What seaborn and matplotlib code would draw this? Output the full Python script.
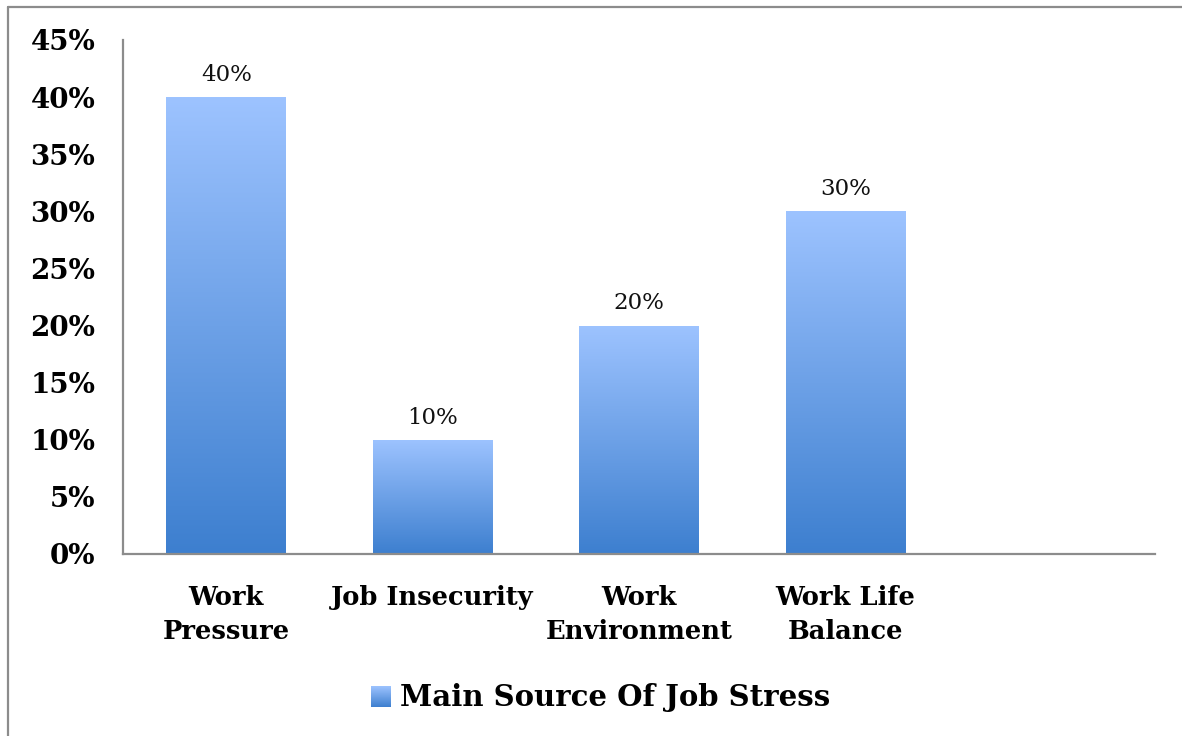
import numpy as np
import pandas as pd
import matplotlib
matplotlib.use("Agg")
import matplotlib.pyplot as plt
import seaborn as sns
from matplotlib.colors import LinearSegmentedColormap
from matplotlib.lines import Line2D

categories = ["Work\nPressure", "Job Insecurity", "Work\nEnvironment", "Work Life\nBalance"]
values = [0.40, 0.10, 0.20, 0.30]
value_labels = ["40%", "10%", "20%", "30%"]
y_ticks = [0.00, 0.05, 0.10, 0.15, 0.20, 0.25, 0.30, 0.35, 0.40, 0.45]
y_tick_labels = ["0%", "5%", "10%", "15%", "20%", "25%", "30%", "35%", "40%", "45%"]
series_name = "Main Source Of Job Stress"

sns.set_theme(style="white")
plt.rcParams["font.family"] = ["DejaVu Serif"]

top_color = "#9DC3FF"
bottom_color = "#3D7FCF"
grad_cmap = LinearSegmentedColormap.from_list("bar_grad", [bottom_color, top_color])

fig = plt.figure(figsize=(11.82, 7.36), dpi=100)
ax = fig.add_axes([123 / 1182, 1 - 554 / 736, (1155 - 123) / 1182, (554 - 40) / 736])

df = pd.DataFrame({"category": categories, "value": values})
sns.barplot(data=df, x="category", y="value", color=bottom_color, width=0.58,
            ax=ax, errorbar=None)

# Replace flat fills with a vertical gradient clipped to each bar
grad = np.linspace(0, 1, 256).reshape(-1, 1)
for patch, lab in zip(ax.patches, value_labels):
    x0, y0 = patch.get_x(), patch.get_y()
    w, h = patch.get_width(), patch.get_height()
    patch.set_facecolor("none")
    patch.set_edgecolor("none")
    im = ax.imshow(grad, cmap=grad_cmap, origin="lower", aspect="auto",
                   extent=[x0, x0 + w, y0, y0 + h], zorder=2, interpolation="bilinear")
    im.set_clip_path(patch)
    ax.annotate(lab, (x0 + w / 2, y0 + h), xytext=(0, 8), textcoords="offset points",
                ha="center", va="bottom", fontsize=16.5, color="#111111")
ax.set_xlim(-0.5, 4.5)
ax.set_ylim(0, 0.45)

ax.set_yticks(y_ticks)
ax.set_yticklabels(y_tick_labels, fontsize=20, fontweight="bold", color="black")
ax.set_xticks(range(len(categories)))
ax.set_xticklabels(categories, fontsize=18.5, fontweight="bold", color="black",
                   linespacing=1.45)
ax.tick_params(axis="y", length=0, pad=20)
ax.tick_params(axis="x", length=0, pad=22)
ax.set_xlabel("")
ax.set_ylabel("")

for side in ["top", "right"]:
    ax.spines[side].set_visible(False)
for side in ["left", "bottom"]:
    ax.spines[side].set_color("#8C8C8C")
    ax.spines[side].set_linewidth(1.6)

# Legend: gradient swatch plus bold label
sw = fig.add_axes([371 / 1182, 1 - 707 / 736, 20 / 1182, 21 / 736])
sw.imshow(grad, cmap=grad_cmap, origin="lower", aspect="auto")
sw.set_axis_off()
fig.text(400 / 1182, 1 - 697 / 736, series_name, fontsize=21, fontweight="bold",
         va="center", ha="left", color="black")

# Outer frame lines
fig.add_artist(Line2D([8 / 1182, 8 / 1182], [0, 1 - 7 / 736], color="#8C8C8C", lw=1.6,
                      transform=fig.transFigure))
fig.add_artist(Line2D([8 / 1182, 1], [1 - 7 / 736, 1 - 7 / 736], color="#8C8C8C", lw=1.6,
                      transform=fig.transFigure))

fig.savefig("out.png", dpi=100, facecolor="white")
